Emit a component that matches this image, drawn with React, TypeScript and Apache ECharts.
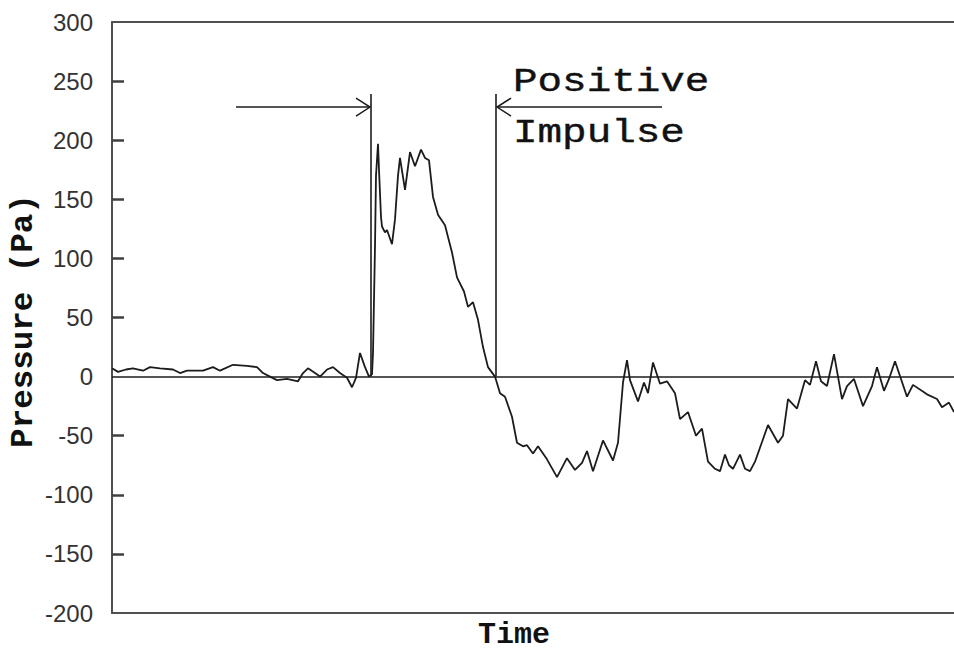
import React, { useEffect, useRef } from "react";
import * as echarts from "echarts";

// Pressure trace: time (arbitrary units) and gauge pressure in Pa
const time = [
  0, 6, 14, 21, 31, 38, 48, 61, 68, 75, 91, 101, 108, 121, 135, 145, 151, 158, 165, 175,
  186, 191, 196, 203, 208, 215, 221, 228, 235, 240, 244, 248, 253, 257, 260, 261, 263, 264,
  266, 267, 269, 270, 273, 275, 280, 283, 286, 288, 293, 298, 303, 309, 313, 317, 321, 326,
  333, 340, 345, 352, 356, 361, 366, 371, 376, 383, 388, 393, 400, 405, 411, 415, 421, 426,
  435, 445, 455, 463, 470, 475, 481, 491, 501, 506, 511, 515, 518, 526, 532, 536, 541, 548,
  555, 563, 568, 576, 584, 590, 596, 603, 608, 613, 617, 621, 628, 633, 638, 643, 656, 666,
  671, 676, 685, 693, 698, 704, 709, 715, 722, 730, 735, 742, 751, 760, 765, 772, 777, 783,
  795, 801, 815, 825, 830, 837, 842,
];
const pressure = [
  7, 4, 6, 7, 5, 8, 7, 6, 3, 5, 5, 8, 5, 10, 9, 8, 3, 0, -3, -2,
  -4, 3, 7, 3, 0, 6, 8, 3, -1, -9, -1, 20, 8, 0, 2, 20, 110, 170,
  197, 175, 135, 127, 122, 124, 112, 133, 170, 185, 158, 190, 178, 192, 185, 183, 152, 137,
  128, 105, 84, 72, 59, 63, 48, 25, 8, 0, -14, -17, -34, -56, -59, -58, -65, -59,
  -70, -85, -69, -79, -73, -63, -80, -54, -71, -56, -5, 14, -3, -21, -5, -14, 12, -6,
  -4, -14, -36, -30, -50, -44, -72, -78, -80, -66, -75, -78, -66, -78, -80, -72, -41, -56,
  -50, -19, -27, -3, -7, 13, -4, -8, 19, -19, -8, -2, -25, -8, 8, -12, -2, 13,
  -17, -7, -15, -19, -26, -22, -30,
];

// Positive-impulse window: start/end markers and the two pointing arrows
const markerTimes = [259, 384];
const markerTop = 239;
const arrowStarts = [124, 550];
const arrowTips = [258, 385];
const arrowLevel = 228;

// Inner tick marks on the pressure axis (Pa) and their reach along the time axis
const yTickValues = [-150, -100, -50, 50, 100, 150, 200, 250];
const tickReach = 12;
const yRange = { min: -200, max: 300, step: 50 };
const timeRange = { min: 0, max: 842 };

const INK = "#1c1c1c";
const AXIS = "#505050";
const MONO = "'Liberation Mono', 'DejaVu Sans Mono', monospace";

export default function App() {
  const ref = useRef<HTMLDivElement>(null);

  useEffect(() => {
    document.body.style.margin = "0";
    const chart = echarts.init(ref.current!, null, { renderer: "svg" });

    const traceData = time.map((t, i) => [t, pressure[i]]);
    const markerData = markerTimes.map((t) => [t, markerTop]);
    const arrowData = arrowStarts.map((s, i) => [s, arrowTips[i], arrowLevel]);
    const tickSegments = yTickValues.map((v) => [
      { coord: [timeRange.min, v], lineStyle: { color: "#404040", width: 2.5 } },
      { coord: [timeRange.min + tickReach, v] },
    ]);

    const frameX = {
      type: "value" as const,
      min: timeRange.min,
      max: timeRange.max,
      axisLine: { show: true, onZero: false, lineStyle: { color: AXIS, width: 2 } },
      axisTick: { show: false },
      axisLabel: { show: false },
      splitLine: { show: false },
    };

    chart.setOption({
      animation: false,
      backgroundColor: "#ffffff",
      grid: { left: 112, right: 0, top: 22, bottom: 38 },
      xAxis: [
        { ...frameX, position: "bottom" },
        { ...frameX, position: "top" },
      ],
      yAxis: {
        type: "value",
        position: "left",
        min: yRange.min,
        max: yRange.max,
        interval: yRange.step,
        axisLine: { show: true, onZero: false, lineStyle: { color: AXIS, width: 2 } },
        axisTick: { show: false },
        axisLabel: {
          fontFamily: "'Liberation Sans', Arial, sans-serif",
          fontSize: 24,
          color: "#333",
          margin: 19,
        },
        splitLine: { show: false },
      },
      graphic: [
        {
          type: "text",
          x: 24,
          y: 321,
          rotation: Math.PI / 2,
          scaleX: 1.05,
          style: {
            text: "Pressure (Pa)",
            font: `bold 31px ${MONO}`,
            fill: "#111",
            align: "center",
            verticalAlign: "middle",
          },
        },
        {
          type: "text",
          x: 514,
          y: 635,
          style: {
            text: "Time",
            font: `bold 30px ${MONO}`,
            fill: "#111",
            align: "center",
            verticalAlign: "middle",
          },
        },
        {
          type: "text",
          x: 513,
          y: 82,
          scaleX: 1.24,
          style: {
            text: "Positive",
            font: `33px ${MONO}`,
            fill: "#111",
            stroke: "#111",
            lineWidth: 0.4,
            align: "left",
            verticalAlign: "middle",
          },
        },
        {
          type: "text",
          x: 513,
          y: 133,
          scaleX: 1.24,
          style: {
            text: "Impulse",
            font: `33px ${MONO}`,
            fill: "#111",
            stroke: "#111",
            lineWidth: 0.4,
            align: "left",
            verticalAlign: "middle",
          },
        },
      ],
      series: [
        {
          type: "line",
          data: traceData,
          showSymbol: false,
          smooth: false,
          lineStyle: { color: INK, width: 1.8 },
          markLine: {
            silent: true,
            symbol: "none",
            label: { show: false },
            lineStyle: { color: INK, width: 1.5, type: "solid" },
            data: [{ yAxis: 0 }, ...tickSegments],
          },
        },
        {
          type: "custom",
          data: markerData,
          renderItem: (_p: any, api: any) => {
            const base = api.coord([api.value(0), 0]);
            const top = api.coord([api.value(0), api.value(1)]);
            return {
              type: "line",
              shape: { x1: base[0], y1: base[1], x2: top[0], y2: top[1] },
              style: { stroke: INK, lineWidth: 1.6 },
            };
          },
        },
        {
          type: "custom",
          data: arrowData,
          encode: { x: [0, 1], y: 2 },
          renderItem: (_p: any, api: any) => {
            const a = api.coord([api.value(0), api.value(2)]);
            const b = api.coord([api.value(1), api.value(2)]);
            const dir = Math.sign(b[0] - a[0]);
            const hx = b[0] - dir * 14;
            return {
              type: "group",
              children: [
                {
                  type: "line",
                  shape: { x1: a[0], y1: a[1], x2: b[0], y2: b[1] },
                  style: { stroke: INK, lineWidth: 1.5 },
                },
                {
                  type: "polyline",
                  shape: { points: [[hx, b[1] - 9], [b[0], b[1]], [hx, b[1] + 9]] },
                  style: { stroke: INK, fill: "none", lineWidth: 1.5 },
                },
              ],
            };
          },
        },
      ],
    });

    return () => chart.dispose();
  }, []);

  return <div ref={ref} style={{ width: 954, height: 651 }} />;
}
